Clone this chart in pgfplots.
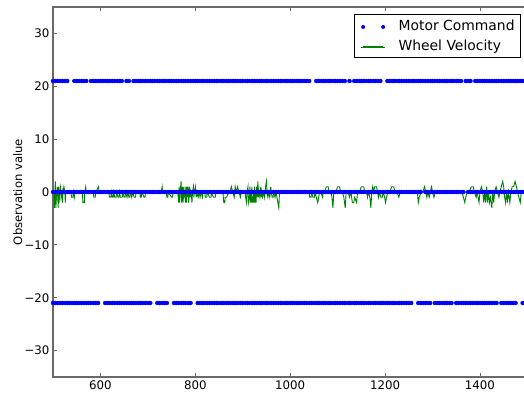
\documentclass[border=0pt]{standalone}
\usepackage{fontspec}
\setmainfont{DejaVu Sans}
\usepackage{pgfplots}
\pgfplotsset{compat=1.18}
\usepackage{pgfplotstable}

\definecolor{mplblue}{RGB}{0,0,255}
\definecolor{mplgreen}{RGB}{0,128,0}
\definecolor{spine}{RGB}{105,105,105}

% Motor command samples: one column per command level (nan = level not used)
\pgfplotstableread{
x pos zero neg
500 21 0 -21
505 21 0 -21
510 21 0 -21
515 21 0 -21
520 21 0 -21
525 21 0 -21
530 21 0 -21
535 nan 0 -21
540 nan 0 -21
545 21 0 -21
550 21 0 -21
555 21 0 -21
560 21 0 -21
565 21 0 -21
570 21 0 -21
575 nan 0 -21
580 21 0 -21
585 21 0 -21
590 21 0 -21
595 21 0 -21
600 21 0 nan
605 21 0 nan
610 21 0 -21
615 21 0 -21
620 21 0 -21
625 21 0 -21
630 21 0 -21
635 21 0 -21
640 21 0 -21
645 21 0 -21
650 nan 0 -21
655 21 0 -21
660 21 0 -21
665 nan 0 -21
670 21 0 -21
675 21 0 -21
680 21 0 -21
685 21 0 -21
690 21 0 -21
695 21 0 -21
700 21 0 -21
705 21 0 -21
710 21 0 nan
715 21 0 nan
720 21 0 -21
725 21 0 -21
730 21 0 -21
735 21 0 -21
740 21 0 -21
745 21 0 nan
750 21 0 nan
755 21 0 -21
760 21 0 -21
765 21 0 -21
770 21 0 -21
775 21 0 -21
780 21 0 -21
785 21 0 -21
790 21 0 -21
795 21 0 nan
800 21 0 nan
805 21 0 -21
810 21 0 -21
815 21 0 -21
820 21 0 -21
825 21 0 -21
830 21 0 -21
835 21 0 -21
840 21 0 -21
845 21 0 -21
850 21 0 -21
855 21 0 -21
860 21 0 -21
865 21 0 -21
870 21 0 -21
875 21 0 -21
880 21 0 -21
885 21 0 -21
890 21 0 -21
895 21 0 -21
900 21 0 -21
905 21 0 -21
910 21 0 -21
915 21 0 -21
920 21 0 -21
925 21 0 -21
930 21 0 -21
935 21 0 -21
940 21 0 -21
945 21 0 -21
950 21 0 -21
955 21 0 -21
960 21 0 -21
965 21 0 -21
970 21 0 -21
975 21 0 -21
980 21 0 -21
985 21 0 -21
990 21 0 -21
995 21 0 -21
1000 21 0 -21
1005 21 0 -21
1010 21 0 -21
1015 21 0 -21
1020 21 0 -21
1025 21 0 -21
1030 21 0 -21
1035 21 0 -21
1040 21 0 -21
1045 nan 0 -21
1050 nan 0 -21
1055 21 0 -21
1060 21 0 -21
1065 21 0 -21
1070 21 0 -21
1075 21 0 -21
1080 21 0 -21
1085 21 0 -21
1090 21 0 -21
1095 21 0 -21
1100 21 0 -21
1105 21 0 -21
1110 21 0 -21
1115 21 0 -21
1120 nan 0 -21
1125 21 0 -21
1130 nan 0 -21
1135 21 0 -21
1140 21 0 -21
1145 21 0 -21
1150 21 0 -21
1155 21 0 -21
1160 21 0 -21
1165 21 0 -21
1170 21 0 -21
1175 21 0 -21
1180 21 0 -21
1185 21 0 -21
1190 21 0 -21
1195 nan 0 -21
1200 nan 0 -21
1205 21 0 -21
1210 21 0 -21
1215 21 0 -21
1220 21 0 -21
1225 21 0 -21
1230 21 0 -21
1235 21 0 -21
1240 21 0 -21
1245 21 0 -21
1250 21 0 -21
1255 21 0 -21
1260 21 0 nan
1265 21 0 nan
1270 21 0 -21
1275 21 0 -21
1280 21 nan -21
1285 21 0 -21
1290 21 0 -21
1295 21 0 -21
1300 21 0 nan
1305 21 0 -21
1310 21 0 -21
1315 21 0 -21
1320 21 0 -21
1325 21 0 -21
1330 21 0 -21
1335 21 0 -21
1340 21 0 -21
1345 21 0 nan
1350 21 0 -21
1355 21 0 -21
1360 21 0 -21
1365 nan 0 -21
1370 21 nan -21
1375 21 0 -21
1380 21 0 -21
1385 nan 0 -21
1390 21 0 -21
1395 21 0 -21
1400 21 0 -21
1405 21 0 -21
1410 21 0 -21
1415 21 0 -21
1420 21 0 -21
1425 21 0 -21
1430 21 0 -21
1435 21 0 -21
1440 21 0 nan
1445 21 0 -21
1450 21 0 -21
1455 21 0 -21
1460 21 0 -21
1465 21 0 -21
1470 21 0 -21
1475 21 0 -21
1480 21 0 nan
1485 21 0 nan
1490 21 0 -21
}\motor

\begin{document}
\begin{tikzpicture}
\begin{axis}[
  name=main,
  scale only axis,
  width=474.4pt, height=370pt,
  xmin=500, xmax=1500, ymin=-35, ymax=35,
  xtick={600,800,1000,1200,1400},
  ytick={-30,-20,-10,0,10,20,30},
  yticklabels={−30,−20,−10,0,10,20,30},
  xtick pos=both, ytick pos=left,
  tick align=inside,
  major tick length=4pt,
  minor tick num=0,
  axis line style={spine, line width=1.2pt},
  every tick/.style={spine, line width=0.8pt},
  tick label style={font=\fontsize{11.8}{14}\selectfont},
  /pgf/number format/assume math mode=true,
  /pgf/number format/1000 sep={},
  every axis y label/.style={at={(axis description cs:-0.074,0.5)}, rotate=90, anchor=center, font=\fontsize{11.6}{13}\selectfont},
  ylabel={Observation value},
  legend style={at={(1,1)}, anchor=north east, xshift=-6.4pt, yshift=-7pt,
    draw=black, line width=0.8pt, fill=white,
    font=\fontsize{13.9}{16}\selectfont,
    inner xsep=6pt, inner ysep=5.5pt, row sep=8pt, column sep=13pt,
    nodes={inner sep=0pt, anchor=base west}},
  legend cell align=left,
]
\addplot[only marks, mark=*, mark size=2pt, mark options={draw=mplblue, fill=mplblue},
  legend image code/.code={
    \fill[fill=mplblue, draw=none] (0pt,3.5pt) circle (2pt);
    \fill[fill=mplblue, draw=none] (20pt,3.5pt) circle (2pt);}]
  table[x=x, y=pos] {\motor};
\addlegendentry{Motor Command}
\addplot[only marks, mark=*, mark size=2pt, mark options={draw=mplblue, fill=mplblue}, forget plot]
  table[x=x, y=zero] {\motor};
\addplot[only marks, mark=*, mark size=2pt, mark options={draw=mplblue, fill=mplblue}, forget plot]
  table[x=x, y=neg] {\motor};

% Wheel velocity readings
\addplot[draw=mplgreen, line width=0.9pt, mark=none,
  legend image code/.code={
    \path (-2pt,3.5pt) -- (22pt,3.5pt);
    \fill[fill=mplgreen, draw=none] (0pt,2.8pt) rectangle (20pt,4.2pt);}]
coordinates {
(500,0)(502,0)(503,-3)(505,2)(506,-3)(508,0)(509,1)(510,-1)(511,-3)(512,1)(513,-2)(514,0)(516,1)(517,-1)(519,0)(520,-2)(521,0)(523,1)(525,0)(526,-2)(527,0)(530,0)
(538,0)(539,-1)(542,-1)(543,0)(545,-1)(546,0)
(562,0)(563,-2)(566,-2)(567,0)(569,1)(570,0)
(585,0)(586,-1)(589,-1)(590,0)(596,1)(597,0)
(618,0)(619,-1)(622,-1)(623,0)(625,-1)(627,-1)(628,0)(630,-1)(633,-1)(634,0)(637,-1)(639,-1)(640,0)(642,-1)(646,-1)(647,0)(650,-1)(652,-1)(653,0)(656,-1)(658,0)(660,-1)(662,-1)(663,0)(666,-1)(668,0)(671,-1)(674,-1)(675,0)
(683,0)(684,-1)(686,-1)(687,0)(692,-1)(694,-1)(695,0)
(728,0)(730,1)(731,0)(739,0)(740,-1)(742,-1)(743,0)(750,-1)(752,-1)(753,0)
(763,0)(764,-1)(765,-2)(766,1)(767,-2)(768,0)(770,2)(771,-2)(772,0)(773,1)(774,-2)(775,-1)(776,1)(777,-1)(778,0)(779,-2)(780,1)(781,-2)(782,1)(783,0)(784,-1)(785,1)(786,-2)(787,0)(788,1)(789,-1)(790,0)(792,-1)(793,-2)(794,0)(796,1)(797,-1)(798,0)(800,1)(802,-1)(803,0)(806,-1)(808,0)(810,-1)(812,0)(815,-1)(816,0)
(820,0)(821,-1)(824,-1)(825,0)(830,-1)(833,-1)(834,0)(838,-1)(842,-1)(843,0)
(858,0)(860,-2)(862,-2)(863,-1)(866,-1)(870,0)(873,0)(876,1)(879,0)(882,-1)(884,1)(886,0)(889,1)(892,0)(895,-1)(897,0)
(905,0)(906,-1)(908,-2)(909,0)(911,1)(912,-2)(914,-1)(915,1)(916,-2)(917,0)(918,-2)(919,1)(920,-2)(921,-1)(922,-2)(923,0)(924,-2)(925,1)(926,-2)(927,0)(928,-2)(929,1)(930,-1)(932,2)(933,-1)(934,0)(936,-1)(938,1)(939,-1)(940,0)(942,-1)(944,0)(946,-1)(948,1)(950,2)(951,0)(953,-1)(955,0)(957,-1)(959,1)(960,0)(962,-1)(964,-1)(965,0)(968,-1)(970,0)(972,-1)(974,-2)(976,-3)(977,-1)(978,0)
(1040,0)(1041,-1)(1044,-1)(1045,0)(1048,-1)(1051,-1)(1052,0)(1055,-1)(1058,-2)(1060,-1)(1062,0)(1065,0)(1068,-1)(1070,0)(1073,0)(1076,1)(1080,1)(1082,0)(1086,0)(1088,-1)(1090,-3)(1092,0)(1096,0)(1100,1)(1104,1)(1106,0)(1110,0)(1113,-1)(1116,-3)(1118,0)(1122,0)(1125,-1)(1128,0)(1131,-2)(1134,-2)(1136,-1)(1140,-2)(1142,0)(1146,0)(1150,1)(1155,1)(1157,0)(1161,0)(1163,-1)(1165,0)(1168,-1)(1170,-3)(1172,0)(1174,1)(1176,0)(1178,1)(1182,1)(1184,0)(1186,-1)(1188,0)(1191,-1)(1194,-1)(1196,0)(1199,-1)(1201,-2)(1203,-1)(1206,0)(1210,0)(1214,1)(1218,1)(1221,0)(1225,0)(1229,-1)(1232,0)
(1268,0)(1270,-2)(1272,-1)(1276,0)(1280,0)(1283,1)(1286,0)(1288,-1)(1290,0)(1293,-1)(1295,0)(1298,1)(1300,0)(1303,-1)(1306,0)
(1362,0)(1365,-1)(1368,-2)(1370,-1)(1373,0)(1377,0)(1382,1)(1386,1)(1388,0)(1392,-1)(1394,0)(1398,-2)(1400,0)(1403,1)(1406,0)(1408,-2)(1410,0)(1412,-2)(1414,1)(1416,-2)(1418,0)(1420,-2)(1422,-1)(1425,-3)(1427,0)(1429,-2)(1431,0)(1434,1)(1437,0)(1440,-1)(1442,0)(1445,1)(1448,2)(1450,1)(1452,-1)(1454,-2)(1456,0)(1458,-2)(1460,0)(1463,-2)(1465,0)(1468,1)(1471,1)(1474,2)(1477,1)(1479,0)(1482,-1)(1485,-2)(1487,0)(1492,0)
};
\addlegendentry{Wheel Velocity}
\end{axis}
\pgfresetboundingbox
\path[use as bounding box] ([xshift=-53pt,yshift=-19pt]main.south west) rectangle ([xshift=471pt,yshift=7pt]main.north west);
\end{tikzpicture}
\end{document}
